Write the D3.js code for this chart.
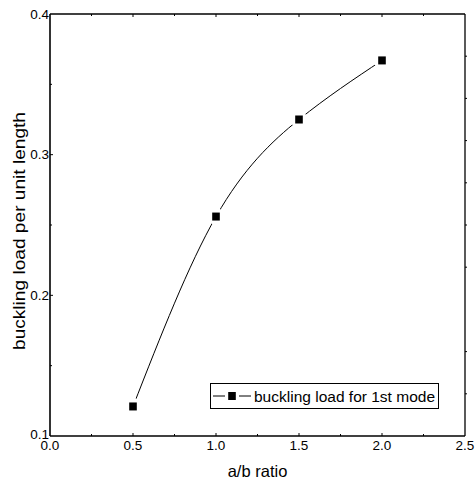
<!DOCTYPE html>
<html><head><meta charset="utf-8">
<script src="https://cdn.jsdelivr.net/npm/d3@7"></script>
<style>body{margin:0;background:#fff}svg{display:block}text{font-family:"Liberation Sans",Arial,sans-serif;fill:#000}</style>
</head><body>
<script>
const ratios = [0.5, 1.0, 1.5, 2.0];
const loads = [0.121, 0.256, 0.325, 0.367];
const xTicks = [0.0, 0.5, 1.0, 1.5, 2.0, 2.5];
const yTicks = [0.1, 0.2, 0.3, 0.4];
const xMinor = [0.25, 0.75, 1.25, 1.75, 2.25];
const yMinor = [0.15, 0.25, 0.35];
const rightTicks = [0.13, 0.16, 0.22, 0.25, 0.28, 0.31, 0.34, 0.37];
const seriesName = "buckling load for 1st mode";
const xTitle = "a/b ratio";
const yTitle = "buckling load per unit length";

const W = 476, H = 483;
const m = {l: 50, t: 14, r: 11, b: 47};
const svg = d3.select("body").append("svg").attr("width", W).attr("height", H);
const x = d3.scaleLinear().domain([0, 2.5]).range([m.l, W - m.r]);
const y = d3.scaleLinear().domain([0.1, 0.4]).range([H - m.b, m.t]);
const data = ratios.map((r, i) => [r, loads[i]]);

// curve
const line = d3.line().x(d => x(d[0])).y(d => y(d[1])).curve(d3.curveNatural);
svg.append("path").attr("d", line(data)).attr("fill", "none").attr("stroke", "#000").attr("stroke-width", 1);
// gaps around markers
svg.selectAll("circle.gap").data(data).join("circle")
  .attr("cx", d => x(d[0])).attr("cy", d => y(d[1])).attr("r", 8.5).attr("fill", "#fff");
svg.selectAll("rect.mk").data(data).join("rect")
  .attr("x", d => x(d[0]) - 3.8).attr("y", d => y(d[1]) - 4).attr("width", 7.6).attr("height", 8).attr("fill", "#000");

// frame
const fr = svg.append("g").attr("stroke", "#000").attr("stroke-width", 1.6);
fr.append("line").attr("x1", x(0)).attr("x2", x(2.5)).attr("y1", y(0.1)).attr("y2", y(0.1));
fr.append("line").attr("x1", x(0)).attr("x2", x(2.5)).attr("y1", y(0.4)).attr("y2", y(0.4));
fr.append("line").attr("x1", x(0)).attr("x2", x(0)).attr("y1", y(0.1)).attr("y2", y(0.4));
fr.append("line").attr("x1", x(2.5)).attr("x2", x(2.5)).attr("y1", y(0.1)).attr("y2", y(0.4)).attr("stroke-width", 1.3);

// ticks
const tk = svg.append("g").attr("stroke", "#000").attr("stroke-width", 1);
[...xTicks.slice(1, -1), ...xMinor].forEach(v => {
  const len = xTicks.includes(v) ? 3 : 2;
  tk.append("line").attr("x1", x(v)).attr("x2", x(v)).attr("y1", y(0.1)).attr("y2", y(0.1) - len);
  tk.append("line").attr("x1", x(v)).attr("x2", x(v)).attr("y1", y(0.4)).attr("y2", y(0.4) + len);
});
[...yTicks.slice(1, -1), ...yMinor].forEach(v => {
  const len = yTicks.includes(v) ? 3 : 2;
  tk.append("line").attr("x1", x(0)).attr("x2", x(0) + len).attr("y1", y(v)).attr("y2", y(v));
});
rightTicks.forEach(v => {
  tk.append("line").attr("x1", x(2.5)).attr("x2", x(2.5) + 2).attr("y1", y(v)).attr("y2", y(v));
});

// tick labels
svg.selectAll("text.xt").data(xTicks).join("text")
  .attr("x", d => x(d)).attr("y", y(0.1) + 14).attr("text-anchor", "middle")
  .attr("font-size", 13.5).text(d => d.toFixed(1));
svg.selectAll("text.yt").data(yTicks).join("text")
  .attr("x", x(0) - 1).attr("y", d => y(d) + (d === 0.1 ? 2.5 : 4.8)).attr("text-anchor", "end")
  .attr("font-size", 13.5).text(d => d.toFixed(1));

// titles
svg.append("text").attr("x", (x(0) + x(2.5)) / 2).attr("y", 477).attr("text-anchor", "middle")
  .attr("font-size", 16.5).text(xTitle);
svg.append("text").attr("transform", `translate(25,${(y(0.1) + y(0.4)) / 2 + 6}) rotate(-90)`)
  .attr("text-anchor", "middle").attr("font-size", 16.5)
  .attr("textLength", 238).attr("lengthAdjust", "spacingAndGlyphs").text(yTitle);

// legend
const lg = svg.append("g");
lg.append("rect").attr("x", 210.5).attr("y", 383.5).attr("width", 228).attr("height", 25)
  .attr("fill", "#fff").attr("stroke", "#000").attr("stroke-width", 1);
lg.append("line").attr("x1", 213).attr("x2", 225).attr("y1", 396).attr("y2", 396).attr("stroke", "#000");
lg.append("line").attr("x1", 239).attr("x2", 251).attr("y1", 396).attr("y2", 396).attr("stroke", "#000");
lg.append("rect").attr("x", 228.2).attr("y", 392).attr("width", 7.6).attr("height", 8).attr("fill", "#000");
lg.append("text").attr("x", 254).attr("y", 402).attr("font-size", 15.5)
  .attr("textLength", 181).attr("lengthAdjust", "spacingAndGlyphs").text(seriesName);
</script>
</body></html>
